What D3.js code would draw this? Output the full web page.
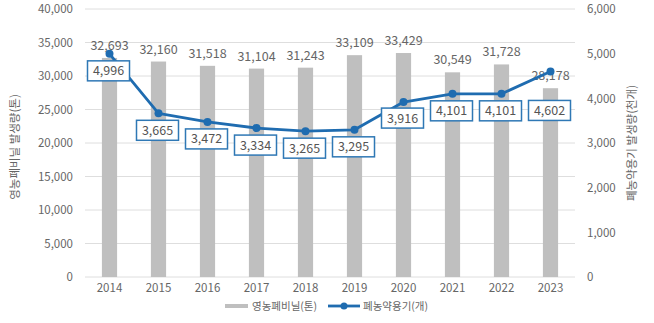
<!DOCTYPE html>
<html>
<head>
<meta charset="utf-8">
<script src="https://cdn.jsdelivr.net/npm/d3@7"></script>
<style>
  html, body { margin: 0; padding: 0; background: #fff; }
  svg text { font-family: "Noto Sans CJK KR", "Noto Sans", sans-serif; fill: #666; }
</style>
</head>
<body>
<svg id="chart" width="654" height="323"></svg>
<script>
// Annual farm waste: plastic film (tons, bars) and pesticide containers (thousand units, line)
const years = ["2014", "2015", "2016", "2017", "2018", "2019", "2020", "2021", "2022", "2023"];
const filmTons = [32693, 32160, 31518, 31104, 31243, 33109, 33429, 30549, 31728, 28178];
const containers = [4996, 3665, 3472, 3334, 3265, 3295, 3916, 4101, 4101, 4602];
const leftTicks = [0, 5000, 10000, 15000, 20000, 25000, 30000, 35000, 40000];
const rightTicks = [0, 1000, 2000, 3000, 4000, 5000, 6000];
const legendLabels = ["영농폐비닐(톤)", "폐농약용기(개)"];
const axisTitles = ["영농폐비닐 발생량(톤)", "폐농약용기 발생량(천개)"];

const svg = d3.select("#chart");
const plotL = 85, plotR = 575, plotT = 9, plotB = 277;
const fmt = d3.format(",");
const barColor = "#bfbfbf", lineColor = "#1f6cb0", gridColor = "#dedede";

const x = d3.scaleBand().domain(years).range([plotL, plotR]).paddingInner(0.69).paddingOuter(0.345);
const yL = d3.scaleLinear().domain([0, 40000]).range([plotB, plotT]);
const yR = d3.scaleLinear().domain([0, 6000]).range([plotB, plotT]);
const cx = d => x(d) + x.bandwidth() / 2;

// gridlines
svg.append("g").selectAll("line").data(leftTicks).join("line")
  .attr("x1", plotL).attr("x2", plotR)
  .attr("y1", d => yL(d)).attr("y2", d => yL(d))
  .attr("stroke", gridColor).attr("stroke-width", 1);

// left axis
const gL = svg.append("g").attr("transform", `translate(${plotL},0)`)
  .call(d3.axisLeft(yL).tickValues(leftTicks).tickFormat(fmt).tickSize(0).tickPadding(12));
gL.select(".domain").remove();
gL.selectAll("text").attr("font-size", 11.5).style("fill", "#666");

// right axis
const gR = svg.append("g").attr("transform", `translate(${plotR},0)`)
  .call(d3.axisRight(yR).tickValues(rightTicks).tickFormat(fmt).tickSize(0).tickPadding(12));
gR.select(".domain").remove();
gR.selectAll("text").attr("font-size", 11.5).style("fill", "#666");

// x axis labels
const gX = svg.append("g").attr("transform", `translate(0,${plotB})`)
  .call(d3.axisBottom(x).tickSize(0).tickPadding(7));
gX.select(".domain").remove();
gX.selectAll("text").attr("font-size", 11.5).style("fill", "#666");

// axis titles
svg.append("text").attr("transform", `translate(19,${(plotT + plotB) / 2 + 4}) rotate(-90)`)
  .attr("text-anchor", "middle").attr("font-size", 11.5).text(axisTitles[0]);
svg.append("text").attr("transform", `translate(636,${(plotT + plotB) / 2}) rotate(-90)`)
  .attr("text-anchor", "middle").attr("font-size", 11.5).text(axisTitles[1]);

// bars
svg.append("g").selectAll("rect").data(filmTons).join("rect")
  .attr("x", (d, i) => x(years[i])).attr("width", x.bandwidth())
  .attr("y", d => yL(d)).attr("height", d => plotB - yL(d))
  .attr("fill", barColor);

// bar value labels
svg.append("g").selectAll("text").data(filmTons).join("text")
  .attr("x", (d, i) => cx(years[i])).attr("y", d => yL(d) - 8)
  .attr("text-anchor", "middle").attr("font-size", 12.5)
  .text(d => fmt(d));

// line
const line = d3.line().x((d, i) => cx(years[i])).y(d => yR(d));
svg.append("path").datum(containers).attr("d", line)
  .attr("fill", "none").attr("stroke", lineColor).attr("stroke-width", 2.8)
  .attr("stroke-linejoin", "round");
svg.append("g").selectAll("circle").data(containers).join("circle")
  .attr("cx", (d, i) => cx(years[i])).attr("cy", d => yR(d)).attr("r", 4)
  .attr("fill", lineColor);

// boxed value labels below the points (last one pushed down to clear the line)
const nudge = { 6: -1, 9: 22 };
const boxW = 42, boxH = 20;
const lbl = svg.append("g").selectAll("g").data(containers).join("g")
  .attr("transform", (d, i) => `translate(${cx(years[i]) - 1},${yR(d) + 17 + (nudge[i] || 0)})`);
lbl.append("rect").attr("x", -boxW / 2).attr("y", -boxH / 2).attr("width", boxW).attr("height", boxH)
  .attr("fill", "#fff").attr("stroke", "#2f78b5").attr("stroke-width", 1.5);
lbl.append("text").attr("text-anchor", "middle").attr("dy", "0.36em").attr("font-size", 12.5)
  .style("fill", "#555").text(d => fmt(d));

// legend
const lg = svg.append("g").attr("transform", "translate(0,306)");
lg.append("rect").attr("x", 225).attr("y", -2).attr("width", 23).attr("height", 4).attr("fill", barColor);
lg.append("text").attr("x", 252).attr("dy", "0.36em").attr("font-size", 10.5).text(legendLabels[0]);
lg.append("line").attr("x1", 328).attr("x2", 360).attr("stroke", lineColor).attr("stroke-width", 2.8);
lg.append("circle").attr("cx", 344).attr("r", 3.5).attr("fill", lineColor);
lg.append("text").attr("x", 363).attr("dy", "0.36em").attr("font-size", 10.5).text(legendLabels[1]);
</script>
</body>
</html>
